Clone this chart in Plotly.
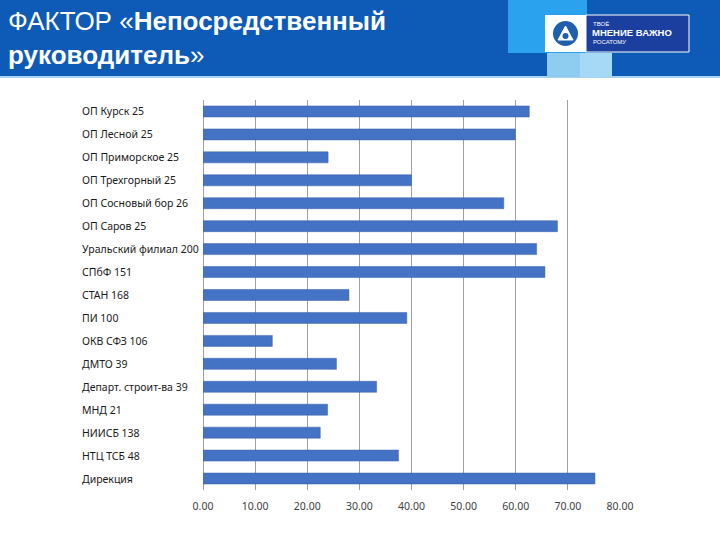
import plotly.graph_objects as go

categories = [
    "ОП Курск 25", "ОП Лесной 25", "ОП Приморское 25", "ОП Трехгорный 25",
    "ОП Сосновый бор 26", "ОП Саров 25", "Уральский филиал 200", "СПбФ 151",
    "СТАН 168", "ПИ 100", "ОКВ СФЗ 106", "ДМТО 39", "Департ. строит-ва 39",
    "МНД 21", "НИИСБ 138", "НТЦ ТСБ 48", "Дирекция",
]
values = [62.6, 59.9, 24.0, 40.0, 57.7, 68.0, 64.0, 65.6,
          28.0, 39.1, 13.3, 25.6, 33.3, 23.9, 22.5, 37.5, 75.2]
x_ticks = [0, 10, 20, 30, 40, 50, 60, 70, 80]

W, H = 720, 540
L, R, T, B = 203, 620, 100, 490


def px(x):
    return (x - L) / (R - L)


def py(y):
    return (B - y) / (B - T)


fig = go.Figure()
fig.add_trace(go.Bar(
    y=categories, x=values, orientation="h",
    marker=dict(color="#4472C4", line=dict(color="#3a62a8", width=0.5)),
    width=0.48, hoverinfo="x+y",
))

shapes = [
    # header band
    dict(type="rect", xref="paper", yref="paper", x0=px(0), x1=px(W), y0=py(77), y1=py(0),
         fillcolor="#0d5bb6", line=dict(width=0), layer="above"),
    dict(type="rect", xref="paper", yref="paper", x0=px(0), x1=px(W), y0=py(78), y1=py(76),
         fillcolor="#a8d4f2", line=dict(width=0), layer="above"),
    dict(type="rect", xref="paper", yref="paper", x0=px(508), x1=px(587), y0=py(53), y1=py(0),
         fillcolor="#2aa2ee", line=dict(width=0), layer="above"),
    dict(type="rect", xref="paper", yref="paper", x0=px(547), x1=px(580), y0=py(77), y1=py(53),
         fillcolor="#8fcdf0", line=dict(width=0), layer="above"),
    dict(type="rect", xref="paper", yref="paper", x0=px(580), x1=px(612), y0=py(77), y1=py(53),
         fillcolor="#a6d9f5", line=dict(width=0), layer="above"),
    # logo box
    dict(type="rect", xref="paper", yref="paper", x0=px(545), x1=px(586), y0=py(52), y1=py(15),
         fillcolor="#ffffff", line=dict(width=0), layer="above"),
    dict(type="rect", xref="paper", yref="paper", x0=px(586), x1=px(689), y0=py(52), y1=py(15),
         fillcolor="#1b3f9e", line=dict(color="#ffffff", width=1), layer="above"),
    dict(type="circle", xref="paper", yref="paper", x0=px(553), x1=px(578), y0=py(46), y1=py(21),
         fillcolor="#1f5fae", line=dict(width=0), layer="above"),
    dict(type="path", xref="paper", yref="paper",
         path="M {},{} L {},{} L {},{} Z".format(px(565.5), py(26), px(573), py(40), px(558), py(40)),
         fillcolor="#ffffff", line=dict(color="#ffffff", width=1), layer="above"),
    dict(type="circle", xref="paper", yref="paper", x0=px(562.5), x1=px(568.5), y0=py(39), y1=py(33),
         fillcolor="#1f5fae", line=dict(width=0), layer="above"),
]

annotations = [
    dict(xref="paper", yref="paper", x=px(6), y=py(4), xanchor="left", yanchor="top",
         align="left", showarrow=False,
         text="ФАКТОР «<b>Непосредственный</b><br><b>руководитель</b>»",
         font=dict(family="Liberation Sans, Arial, sans-serif", size=26, color="#ffffff")),
    dict(xref="paper", yref="paper", x=px(591), y=py(24), xanchor="left", yanchor="middle",
         showarrow=False, text="ТВОЁ",
         font=dict(family="Liberation Sans, Arial", size=6, color="#ffffff")),
    dict(xref="paper", yref="paper", x=px(590), y=py(33), xanchor="left", yanchor="middle",
         showarrow=False, text="<b>МНЕНИЕ ВАЖНО</b>",
         font=dict(family="Liberation Sans, Arial", size=9.5, color="#ffffff")),
    dict(xref="paper", yref="paper", x=px(591), y=py(42), xanchor="left", yanchor="middle",
         showarrow=False, text="РОСАТОМУ",
         font=dict(family="Liberation Sans, Arial", size=6, color="#ffffff")),
]
for c in categories:
    annotations.append(dict(
        xref="paper", yref="y", x=px(80), y=c, xanchor="left", yanchor="middle",
        showarrow=False, text=c,
        font=dict(family="Noto Sans, sans-serif", size=10.5, color="#1a1a1a"),
    ))

fig.update_layout(
    width=W, height=H,
    margin=dict(l=L, r=W - R, t=T, b=H - B),
    paper_bgcolor="#ffffff", plot_bgcolor="#ffffff",
    showlegend=False,
    shapes=shapes, annotations=annotations,
    xaxis=dict(range=[0, 80], tickvals=x_ticks, tickformat=".2f",
               showgrid=True, gridcolor="#a0a0a0", gridwidth=1,
               zeroline=True, zerolinecolor="#a0a0a0", zerolinewidth=1,
               showline=False, ticks="", ticklabelstandoff=8,
               tickfont=dict(family="Noto Sans, sans-serif", size=10.5, color="#404040")),
    yaxis=dict(categoryorder="array", categoryarray=categories, autorange="reversed",
               showticklabels=False, showgrid=False, zeroline=False, ticks=""),
    bargap=0.52,
)

fig.write_html("out.html", config={"displayModeBar": False},
               post_script="document.body.style.margin='0px';")
